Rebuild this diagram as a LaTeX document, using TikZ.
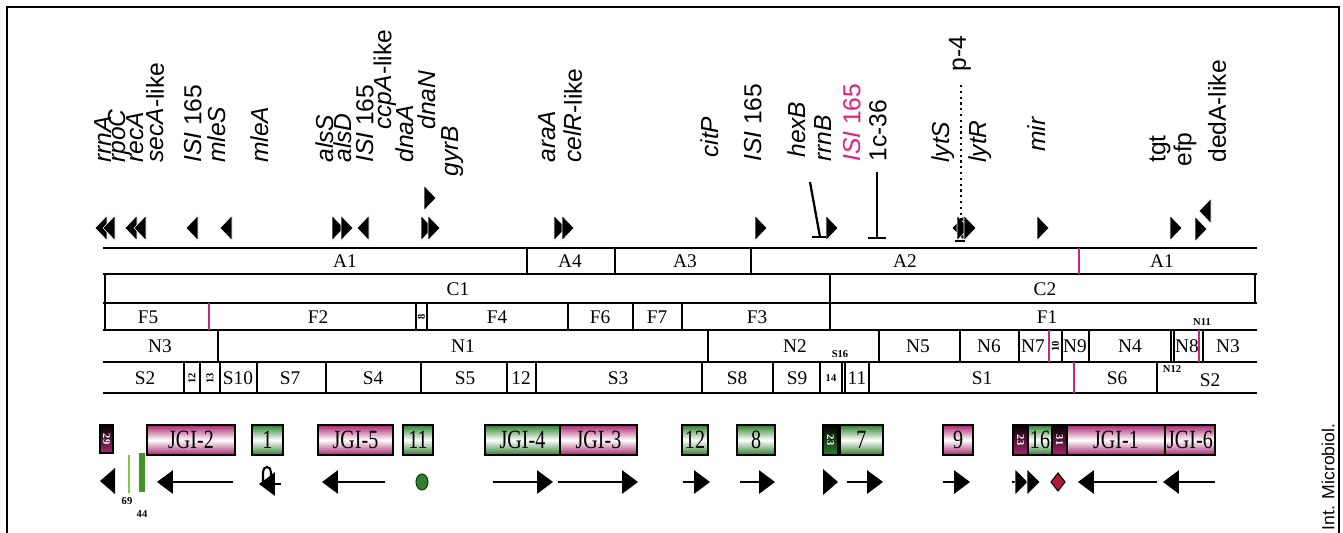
\documentclass[tikz,border=0pt]{standalone}
\usepackage{fontspec}
\setmainfont{Liberation Serif}
\newfontfamily\genefont{Liberation Sans}
\usetikzlibrary{arrows.meta}
\definecolor{jgipink}{RGB}{168,38,108}
\definecolor{jgigreen}{RGB}{46,128,46}
\definecolor{isipink}{RGB}{222,32,124}
\definecolor{breakpink}{RGB}{196,40,128}
\definecolor{termred}{RGB}{178,24,56}
\definecolor{litegreen}{RGB}{130,200,70}
\newcommand{\narrow}[1]{\scalebox{0.76}[1]{#1}}

\begin{document}
\begin{tikzpicture}[x=0.02cm,y=-0.02cm,
  gene/.style={rotate=90,anchor=west,inner sep=0pt,font=\genefont\fontsize{14}{14}\selectfont},
  seg/.style={inner sep=0pt,font=\fontsize{11}{11}\selectfont},
  tinyseg/.style={inner sep=0pt,font=\bfseries\fontsize{6}{6}\selectfont},
  boxtext/.style={inner sep=0pt,font=\fontsize{15}{15}\selectfont},
  rule/.style={line width=1.1pt},
  cut/.style={line width=0.9pt},
  brk/.style={breakpink,line width=1pt},
  pinkbox/.style={draw=black,line width=0.8pt,top color=jgipink,bottom color=jgipink,middle color=white},
  greenbox/.style={draw=black,line width=0.8pt,top color=jgigreen,bottom color=jgigreen,middle color=white},
  orf/.style={line width=1.6pt,-{Triangle[length=9pt,width=13pt]}},
  lgene/.pic={\filldraw[draw=white,line width=0.3pt] (6,-12.5) -- (-6,0) -- (6,12.5) -- cycle;},
  rgene/.pic={\filldraw[draw=white,line width=0.3pt] (-6,-12.5) -- (6,0) -- (-6,12.5) -- cycle;}]
\useasboundingbox (0,0) rectangle (1343,532);
\draw[line width=1pt] (7,545) -- (7,7) -- (1339,7) -- (1339,545);
% gene names
\node[gene] (rrnA) at (103,163) {\textit{rrnA}};
\node[gene] (rpoC) at (119,163) {\textit{rpoC}};
\node[gene] (recA) at (135,163) {\textit{recA}};
\node[gene] (secA) at (155,163) {\textit{secA}-like};
\node[gene] (isiA) at (193,163) {\textit{ISI} 165};
\node[gene] (mleS) at (217,163) {\textit{mleS}};
\node[gene] (mleA) at (260,163) {\textit{mleA}};
\node[gene] (alsS) at (325,163) {\textit{alsS}};
\node[gene] (alsD) at (343,163) {\textit{alsD}};
\node[gene] (isiB) at (365,163) {\textit{ISI} 165};
\node[gene] (ccpA) at (385,130) {\textit{ccpA}-like};
\node[gene] (dnaA) at (405,163) {\textit{dnaA}};
\node[gene] (dnaN) at (427,130) {\textit{dnaN}};
\node[gene] (gyrB) at (453,177) {\textit{gyrB}};
\node[gene] (araA) at (547,163) {\textit{araA}};
\node[gene] (celR) at (573,163) {\textit{celR}-like};
\node[gene] (citP) at (710,158) {\textit{citP}};
\node[gene] (isiC) at (753,162) {\textit{ISI} 165};
\node[gene] (hexB) at (797,158) {\textit{hexB}};
\node[gene] (rrnB) at (823,162) {\textit{rrnB}};
\node[gene,isipink] (isiD) at (852,162) {\textit{ISI} 165};
\node[gene] (c36) at (878,162) {1c-36};
\node[gene] (lytS) at (943,163) {\textit{lytS}};
\node[gene] (lytR) at (980,163) {\textit{lytR}};
\node[gene] (p4) at (960,72) {p-4};
\node[gene] (mir) at (1037,152) {\textit{mir}};
\node[gene] (tgt) at (1160,163) {tgt};
\node[gene] (efp) at (1185,167) {efp};
\node[gene] (dedA) at (1217,163) {dedA-like};
% orientation of genes
\pic at (101,228) {lgene}; \pic at (109,228) {lgene};
\pic at (131,228) {lgene}; \pic at (140,228) {lgene};
\pic at (192,228) {lgene}; \pic at (226,228) {lgene};
\pic at (338,228) {rgene}; \pic at (347,228) {rgene}; \pic at (363,228) {lgene};
\pic at (430,198) {rgene}; \pic at (427,228) {rgene}; \pic at (434,228) {rgene};
\pic at (560,228) {rgene}; \pic at (568,228) {rgene};
\pic at (761,228) {rgene}; \pic at (832,228) {rgene};
\pic at (958,228) {lgene}; \pic at (963,228) {rgene}; \pic at (970,228) {rgene};
\pic at (1043,228) {rgene}; \pic at (1176,228) {rgene};
\pic at (1205,211) {lgene}; \pic at (1201,229) {rgene};
\draw[line width=1.3pt] (810,182) -- (820,237); \draw[line width=1.3pt] (812,237) -- (826,237);
\draw[line width=1.5pt] (877,172) -- (877,238); \draw[line width=1.3pt] (868,238) -- (886,238);
\draw[dotted,line width=1.3pt] (961,85) -- (961,222);
\draw[line width=1pt] (955,241) -- (965,241);
% map rows
\draw[rule] (103,248) -- (1257,248);
\draw[rule] (103,274) -- (1257,274);
\draw[rule] (103,303) -- (1257,303);
\draw[rule] (103,330) -- (1257,330);
\draw[rule] (103,362) -- (1257,362);
\draw[rule] (103,393) -- (1257,393);
\draw[cut] (105,274) -- (105,330) (1255,274) -- (1255,303) (830,274) -- (830,330);
\draw[cut] (527,248) -- (527,274) (615,248) -- (615,274) (751,248) -- (751,274);
\draw[brk] (1079,248) -- (1079,274);
\draw[cut] (416,303) -- (416,330) (427,303) -- (427,330) (568,303) -- (568,330) (633,303) -- (633,330) (682,303) -- (682,330);
\draw[brk] (209,303) -- (209,330);
\draw[cut] (218,330) -- (218,362) (708,330) -- (708,362) (879,330) -- (879,362) (960,330) -- (960,362) (1019,330) -- (1019,362) (1062,330) -- (1062,362) (1089,330) -- (1089,362) (1171,330) -- (1171,362) (1174,330) -- (1174,362) (1203,330) -- (1203,362);
\draw[brk] (1049,330) -- (1049,362) (1199,330) -- (1199,362);
\draw[cut] (184,362) -- (184,393) (200,362) -- (200,393) (220,362) -- (220,393) (257,362) -- (257,393) (326,362) -- (326,393) (421,362) -- (421,393) (507,362) -- (507,393) (536,362) -- (536,393) (702,362) -- (702,393) (773,362) -- (773,393) (820,362) -- (820,393) (842,362) -- (842,393) (845,362) -- (845,393) (869,362) -- (869,393) (1157,362) -- (1157,393);
\draw[brk] (1074,362) -- (1074,393);
\node[seg] (a1) at (345,261) {A1};
\node[seg] (a4) at (570,261) {A4};
\node[seg] (a3) at (685,261) {A3};
\node[seg] (a2) at (905,261) {A2};
\node[seg] (a1b) at (1162,261) {A1};
\node[seg] (c1) at (458,289) {C1};
\node[seg] (c2) at (1045,289) {C2};
\node[seg] (f5) at (148,317) {F5};
\node[seg] (f2) at (318,317) {F2};
\node[tinyseg,rotate=90] (f8) at (421.5,317) {8};
\node[seg] (f4) at (497,317) {F4};
\node[seg] (f6) at (600,317) {F6};
\node[seg] (f7) at (657,317) {F7};
\node[seg] (f3) at (757,317) {F3};
\node[seg] (f1) at (1047,317) {F1};
\node[tinyseg] (n11) at (1202,322) {N11};
\node[seg] (n3) at (160,346) {N3};
\node[seg] (n1) at (463,346) {N1};
\node[seg] (n2) at (795,346) {N2};
\node[tinyseg] (s16) at (840,354) {S16};
\node[seg] (n5) at (918,346) {N5};
\node[seg] (n6) at (989,346) {N6};
\node[seg] (n7) at (1033,346) {N7};
\node[tinyseg,rotate=90] (n10) at (1055.5,346) {10};
\node[seg] (n9) at (1075,346) {N9};
\node[seg] (n4) at (1130,346) {N4};
\node[seg] (n8) at (1187,346) {N8};
\node[seg] (n3b) at (1228,346) {N3};
\node[seg] (s2) at (145,378) {S2};
\node[tinyseg,rotate=90] (s12) at (192,378) {12};
\node[tinyseg,rotate=90] (s13) at (210,378) {13};
\node[seg] (s10) at (238,378) {S10};
\node[seg] (s7) at (290,378) {S7};
\node[seg] (s4) at (373,378) {S4};
\node[seg] (s5) at (465,378) {S5};
\node[seg] (s12b) at (521,378) {12};
\node[seg] (s3) at (618,378) {S3};
\node[seg] (s8) at (737,378) {S8};
\node[seg] (s9) at (797,378) {S9};
\node[tinyseg] (s14) at (831,378) {14};
\node[seg] (s11) at (857,378) {11};
\node[seg] (s1) at (982,378) {S1};
\node[seg] (s6) at (1117,378) {S6};
\node[tinyseg] (n12) at (1172,369) {N12};
\node[seg] (s2b) at (1210,380) {S2};
% islands
\path[draw=black,line width=0.8pt,top color=black,bottom color=jgipink] (100,425) rectangle (113,453);
\node[tinyseg,white,rotate=-90] (g29) at (106.5,439) {29};
\path[pinkbox] (147,425) rectangle (235,455); \node[boxtext] (jgi2) at (191,440) {\narrow{JGI-2}};
\path[greenbox] (252,425) rectangle (283,455); \node[boxtext] (g1) at (267.5,440) {\narrow{1}};
\path[pinkbox] (318,425) rectangle (393,455); \node[boxtext] (jgi5) at (355.5,440) {\narrow{JGI-5}};
\path[greenbox] (403,425) rectangle (433,455); \node[boxtext] (g11) at (418,440) {\narrow{11}};
\path[greenbox] (485,425) rectangle (560,455); \node[boxtext] (jgi4) at (522.5,440) {\narrow{JGI-4}};
\path[pinkbox] (560,425) rectangle (637,455); \node[boxtext] (jgi3) at (598.5,440) {\narrow{JGI-3}};
\path[greenbox] (682,425) rectangle (708,455); \node[boxtext] (g12) at (695,440) {\narrow{12}};
\path[greenbox] (737,425) rectangle (775,455); \node[boxtext] (g8) at (756,440) {\narrow{8}};
\path[draw=black,line width=0.8pt,top color=black,bottom color=jgigreen] (823,425) rectangle (838,455);
\node[tinyseg,white,rotate=-90] (g23a) at (830.5,440) {23};
\path[greenbox] (840,425) rectangle (883,455); \node[boxtext] (g7) at (861.5,440) {\narrow{7}};
\path[pinkbox] (943,425) rectangle (973,455); \node[boxtext] (g9) at (958,440) {\narrow{9}};
\path[draw=black,line width=0.8pt,top color=black,bottom color=jgipink] (1013,425) rectangle (1028,455);
\node[tinyseg,white,rotate=-90] (g23b) at (1020.5,440) {23};
\path[greenbox] (1028,425) rectangle (1052,455); \node[boxtext] (g16) at (1040,440) {\narrow{16}};
\path[draw=black,line width=0.8pt,top color=black,bottom color=jgipink] (1052,425) rectangle (1067,455);
\node[tinyseg,white,rotate=-90] (g31) at (1059.5,440) {31};
\path[pinkbox] (1067,425) rectangle (1165,455); \node[boxtext] (jgi1) at (1116,440) {\narrow{JGI-1}};
\path[pinkbox] (1165,425) rectangle (1215,455); \node[boxtext] (jgi6) at (1190,440) {\narrow{JGI-6}};
% island orientation
\fill (115,468) -- (100,481) -- (115,494) -- cycle;
\draw[litegreen,line width=1pt] (129,455) -- (129,493);
\fill[jgigreen!85!lime] (139,453) rectangle (145,492);
\node[tinyseg] (m69) at (127,501) {69};
\node[tinyseg] (m44) at (142,514) {44};
\draw[orf] (233,482) -- (157,482);
\draw[line width=1.2pt] (263,484) -- (263,472) arc[start angle=180,end angle=360,x radius=4,y radius=5] -- (271,480);
\draw[orf] (281,484) -- (259,484);
\draw[orf] (385,482) -- (322,482);
\filldraw[fill=jgigreen,draw=black!50!jgigreen,line width=0.6pt] (422,482) ellipse [x radius=6,y radius=8];
\draw[orf] (493,482) -- (553,482);
\draw[orf] (558,482) -- (638,482);
\draw[orf] (683,482) -- (710,482);
\draw[orf] (740,482) -- (775,482);
\fill (823,469) -- (838,482) -- (823,495) -- cycle;
\draw[orf] (847,482) -- (883,482);
\draw[orf] (943,482) -- (970,482);
\draw[line width=1.6pt] (1012,482) -- (1018,482);
\filldraw[draw=white,line width=0.3pt] (1015,469) -- (1028,482) -- (1015,495) -- cycle;
\filldraw[draw=white,line width=0.3pt] (1027,469) -- (1040,482) -- (1027,495) -- cycle;
\filldraw[fill=termred,draw=black,line width=0.6pt] (1058,473) -- (1065,482) -- (1058,491) -- (1051,482) -- cycle;
\draw[orf] (1157,482) -- (1078,482);
\draw[orf] (1215,482) -- (1163,482);
\node[rotate=90,font=\genefont\fontsize{10}{10}\selectfont] (src) at (1328,477) {Int. Microbiol.};
\end{tikzpicture}
\end{document}
